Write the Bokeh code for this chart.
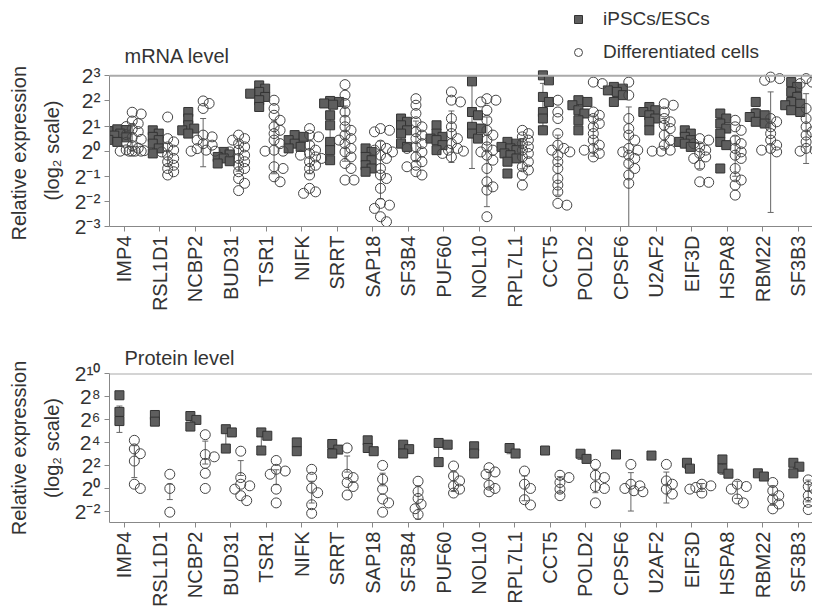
import math
from bokeh.plotting import figure
from bokeh.models import (Range1d, FixedTicker, ColumnDataSource, Whisker, TeeHead,
                          Span, Legend, LegendItem, Label, Title)
from bokeh.layouts import column
from bokeh.embed import file_html
from bokeh.resources import INLINE

# ---------------- data (log2 values) ----------------
genes = ["IMP4", "RSL1D1", "NCBP2", "BUD31", "TSR1", "NIFK", "SRRT", "SAP18", "SF3B4", "PUF60",
         "NOL10", "RPL7L1", "CCT5", "POLD2", "CPSF6", "U2AF2", "EIF3D", "HSPA8", "RBM22", "SF3B3"]

mrna_esc = [
    [0.87, 0.84, 0.80, 0.70, 0.62, 0.55, 0.45, 0.37],
    [0.83, 0.70, 0.57, 0.44, 0.30, 0.11, -0.09],
    [1.56, 1.30, 1.03, 0.90, 0.83, 0.70],
    [-0.03, -0.13, -0.23, -0.29, -0.40, -0.49],
    [2.62, 2.49, 2.36, 2.29, 2.16, 2.03, 1.76],
    [0.64, 0.57, 0.44, 0.30, 0.17, 0.11],
    [2.0, 1.96, 1.90, 1.85, 1.43, 1.03, 0.37, 0.04, -0.36],
    [0.11, -0.03, -0.23, -0.36, -0.56, -0.69, -0.82],
    [1.30, 1.17, 1.03, 0.83, 0.70, 0.30, 0.17],
    [1.03, 0.70, 0.57, 0.50, 0.44, 0.24, 0.04],
    [2.78, 1.56, 1.43, 0.97, 0.90, 0.70, 0.50],
    [0.37, 0.30, 0.17, 0.11, 0.04, -0.09, -0.16, -0.29, -0.42, -0.89],
    [3.02, 2.82, 2.16, 1.96, 1.56, 1.30, 0.83],
    [2.03, 1.96, 1.83, 1.63, 1.50, 1.23, 0.83],
    [2.56, 2.49, 2.42, 2.36, 2.23, 1.96],
    [1.76, 1.63, 1.56, 1.43, 1.30, 1.17, 0.83],
    [0.83, 0.70, 0.57, 0.44, 0.37, 0.30, 0.17],
    [1.50, 1.30, 1.10, 0.90, 0.70, 0.37, 0.24, -0.69],
    [1.96, 1.50, 1.43, 1.36, 1.17, 1.10],
    [2.75, 2.56, 2.36, 2.16, 1.96, 1.89, 1.83, 1.63, 1.56],
]
mrna_diff = [
    [1.55, 1.48, 1.20, 1.10, 0.98, 0.88, 0.78, 0.66, 0.55, 0.47, 0.35, 0.22, 0.12, 0.05, 0.02, 0.0, 0.0, 0.0, 0.0, 0.0],
    [1.36, 0.50, 0.37, 0.17, 0.04, -0.03, -0.16, -0.29, -0.42, -0.56, -0.69, -0.82, -0.95],
    [2.0, 1.9, 1.7, 0.64, 0.57, 0.44, 0.30, 0.24, 0.10, 0.04, 0.0, 0.0],
    [0.64, 0.50, 0.44, 0.30, 0.17, 0.04, -0.03, -0.16, -0.29, -0.42, -0.56, -0.69, -0.82, -1.09, -1.28, -1.57],
    [2.03, 1.70, 1.43, 1.23, 0.97, 0.83, 0.70, 0.44, 0.30, 0.04, 0.0, 0.0, -0.62, -0.69, -1.02, -1.22],
    [0.90, 0.64, 0.57, 0.24, 0.04, -0.09, -0.16, -0.23, -0.29, -0.42, -0.56, -0.69, -0.95, -1.48, -1.62, -1.68],
    [2.65, 2.23, 1.90, 1.56, 1.23, 0.97, 0.83, 0.64, 0.50, 0.44, 0.30, 0.11, -0.03, -0.23, -0.49, -0.69, -1.15, -1.15],
    [0.90, 0.83, 0.77, 0.24, 0.11, 0.04, -0.03, -0.16, -0.29, -0.69, -0.95, -1.09, -1.48, -2.08, -2.15, -2.28, -2.61, -2.81],
    [2.09, 1.83, 1.50, 1.17, 0.97, 0.77, 0.64, 0.50, 0.30, 0.17, 0.11, -0.03, -0.23, -0.42, -0.56, -0.62, -0.82, -0.95],
    [2.36, 2.03, 1.96, 1.30, 0.97, 0.70, 0.50, 0.30, 0.11, 0.04, 0.0, -0.09, -0.23],
    [2.09, 2.03, 1.96, 1.63, 1.23, 0.83, 0.64, 0.44, 0.17, 0.04, -0.03, -0.16, -0.36, -0.69, -1.22, -1.42, -1.55, -2.61],
    [0.83, 0.70, 0.57, 0.44, 0.30, 0.17, 0.04, -0.09, -0.23, -0.42, -0.62, -0.75, -0.95, -1.35],
    [2.03, 1.56, 1.30, 0.70, 0.24, 0.11, 0.04, -0.03, -0.16, -0.42, -0.69, -1.09, -1.35, -1.62, -2.08, -2.15],
    [2.75, 2.69, 1.56, 1.43, 1.30, 1.10, 0.97, 0.70, 0.44, 0.24, 0.11, 0.04, -0.09, -0.23],
    [2.75, 2.23, 1.30, 0.90, 0.64, 0.44, 0.11, 0.04, -0.03, -0.16, -0.29, -0.49, -0.69, -0.95, -1.28],
    [1.89, 1.83, 1.56, 1.30, 1.17, 1.03, 0.90, 0.64, 0.44, 0.24, 0.04, 0.0, 0.0],
    [0.50, 0.44, 0.30, 0.17, 0.04, -0.09, -0.23, -0.29, -0.56, -1.22, -1.24],
    [1.23, 0.97, 0.83, 0.44, 0.30, 0.11, -0.03, -0.16, -0.29, -0.69, -1.02, -1.15, -1.35, -1.75],
    [2.95, 2.89, 2.82, 1.30, 1.17, 0.97, 0.70, 0.44, 0.24, 0.11, 0.04, -0.03],
    [2.89, 2.75, 2.69, 1.70, 1.30, 0.97, 0.77, 0.64, 0.37, 0.11, 0.04, 0.0],
]
mrna_esc_err = [(0.40, 0.85), (0.05, 0.75), (0.70, 1.40), (-0.40, -0.10), (1.90, 2.50),
                (0.15, 0.55), (0.10, 1.90), (-0.65, 0.0), (0.40, 1.20), (0.30, 0.80),
                (-0.69, 2.78), (-0.35, 0.35), (1.00, 2.70), (1.20, 1.90), (2.10, 2.50),
                (1.10, 1.70), (0.30, 0.70), (0.20, 1.30), (1.15, 1.70), (1.60, 2.60)]
mrna_diff_err = [(0.0, 1.1), (-0.6, 0.3), (-0.62, 1.30), (-0.8, 0.4), (-0.9, 1.2),
                 (-0.9, 0.4), (-0.4, 1.8), (-1.9, 0.4), (-0.4, 1.2), (-0.45, 1.6),
                 (-2.21, 1.36), (-0.7, 0.5), (-1.75, 0.64), (-0.2, 1.4), (-3.0, 1.76),
                 (0.1, 1.3), (-0.7, 0.3), (-1.0, 0.6), (-2.44, 2.36), (-0.49, 2.29)]

prot_esc = [
    [8.1, 6.65, 5.85], [6.38, 5.8], [6.29, 5.95, 5.37], [5.14, 4.86, 3.45], [4.86, 4.57, 3.28],
    [3.99, 3.22], [3.85, 3.36, 3.02], [4.17, 3.5, 3.22], [3.79, 3.4, 3.02], [3.94, 3.79, 2.27],
    [3.65, 3.02], [3.5, 3.02], [3.28], [3.0, 2.55], [2.93],
    [2.84], [2.21, 1.70], [2.5, 1.70, 1.26], [1.29, 1.01], [2.21, 1.87, 1.29],
]
prot_diff = [
    [4.17, 3.42, 3.0, 2.36, 0.34, -0.03], [1.21, -0.03, -2.1],
    [4.66, 2.93, 2.73, 2.16, 1.29, -0.03], [3.22, 0.92, 0.34, 0.2, -0.09, -0.66, -1.09],
    [2.41, 1.64, 1.49, 1.21, -0.09, -1.29], [1.64, 0.95, 0.0, -0.4, -1.45, -2.2],
    [3.5, 1.21, 0.92, 0.49, 0.14, -0.6], [1.98, 0.78, -0.09, -0.95, -1.29, -2.1],
    [0.6, -0.3, -0.9, -1.4, -1.8, -2.3], [1.93, 1.06, 0.63, 0.2, -0.09, -0.43],
    [1.78, 1.41, 1.21, 0.26, -0.03, -0.32], [1.49, 0.34, -0.03, -1.01, -1.47],
    [1.12, 0.92, 0.49, -0.09, -0.66], [2.07, 1.12, 0.92, 0.14, -0.03, -1.29],
    [2.07, 0.34, 0.2, -0.03, -0.23, -0.32], [2.07, 0.63, 0.34, -0.09, -0.52],
    [0.34, 0.2, 0.06, -0.09, -0.43], [0.34, 0.14, -0.09, -0.95, -1.29],
    [0.49, -0.23, -0.66, -0.95, -1.38, -1.81], [0.72, 0.14, -0.09, -0.66, -1.24, -1.87],
]
prot_esc_err = [(4.86, 7.16), (5.8, 6.4), (5.4, 6.3), (3.5, 5.1), (3.3, 4.9),
                (3.2, 4.0), (3.0, 3.8), (3.2, 4.2), (3.0, 3.8), (2.3, 3.9),
                (3.0, 3.6), (3.0, 3.5), (3.28, 3.28), (2.5, 3.0), (2.93, 2.93),
                (2.84, 2.84), (1.7, 2.2), (1.2, 2.5), (1.0, 1.3), (1.3, 2.2)]
prot_diff_err = [(0.92, 3.7), (-1.0, 0.34), (2.1, 4.1), (1.1, 2.4), (0.3, 1.6),
                 (-1.3, 0.6), (1.4, 2.8), (0.2, 1.3), (-2.7, 0.2), (-0.3, 1.4),
                 (0.0, 1.4), (-1.1, 1.06), (-0.4, 1.0), (-0.4, 1.6), (-2.0, 1.35),
                 (-1.3, 1.4), (-0.3, 0.4), (-0.9, 0.6), (-1.5, 0.2), (-1.2, 0.7)]

mrna_ticks = [3, 2, 1, 0, -1, -2, -3]
mrna_tick_labels = ["2³", "2²", "2¹", "2⁰", "2⁻¹", "2⁻²", "2⁻³"]
prot_ticks = [10, 8, 6, 4, 2, 0, -2]
prot_tick_labels = ["2¹⁰", "2⁸", "2⁶", "2⁴", "2²", "2⁰", "2⁻²"]

series_names = ["iPSCs/ESCs", "Differentiated cells"]
panel_titles = ["mRNA level", "Protein level"]
y_title_lines = ["Relative expression", "(log₂ scale)"]

# ---------------- styling / layout ----------------
FONT = "Liberation Sans"
TXT = "#333333"
LEFT = 109
FRAME_W = 703
W = LEFT + FRAME_W
XR = (-0.42, 19.40)
XPX = FRAME_W / (XR[1] - XR[0])
BB = 86          # bottom border for the rotated gene labels
SQ_STYLE = dict(marker="square", size=9, fill_color="#5e5e5e", line_color="#333333", line_width=1)
CI_STYLE = dict(marker="circle", size=10, fill_alpha=0, line_color="#444444", line_width=1)


def swarm(vals, center, ypx, step=3.0, mind=6.5, maxk=3):
    placed = []
    out = []
    for v in vals:
        vy = v * ypx
        cands = [0.0]
        for k in range(1, maxk + 1):
            cands += [k * step, -k * step]
        best = None
        bestd = -1
        bb = 0.0
        for c in cands:
            d = min([math.hypot(c - px, vy - py) for px, py in placed], default=1e9)
            if d >= mind:
                best = c
                break
            if d > bestd:
                bestd = d
                bb = c
        if best is None:
            best = bb
        placed.append((best, vy))
        out.append(center + best / XPX)
    return out


def build(yr, top_line, ticks, labels, esc, diff, esc_err, diff_err, off_sq, off_ci,
          frame_h, border_top, ytitle_align, ytitle_offsets, title=None):
    p = figure(width=W, height=border_top + frame_h + BB, x_range=Range1d(*XR),
               y_range=Range1d(*yr), output_backend="svg", toolbar_location=None,
               min_border_left=LEFT, min_border_right=0, min_border_top=border_top,
               min_border_bottom=BB)
    ypx = frame_h / (yr[1] - yr[0])
    p.outline_line_color = None
    p.xgrid.visible = False
    p.ygrid.visible = False
    p.background_fill_color = "white"
    p.border_fill_color = "white"
    if title is not None:
        p.title.text = title
        p.title.text_font = FONT
        p.title.text_font_size = "20px"
        p.title.text_font_style = "normal"
        p.title.text_color = TXT
        p.title.offset = 15
        p.title.standoff = 10

    sx, sy, cx, cy = [], [], [], []
    for i in range(len(genes)):
        sx += swarm(esc[i], i + off_sq, ypx, step=3.0, maxk=3)
        sy += esc[i]
        cx += swarm(diff[i], i + off_ci, ypx, step=3.0, maxk=4)
        cy += diff[i]
    r_s = p.scatter("x", "y", source=ColumnDataSource(dict(x=sx, y=sy)), **SQ_STYLE)
    r_c = p.scatter("x", "y", source=ColumnDataSource(dict(x=cx, y=cy)), **CI_STYLE)

    wsrc_s = ColumnDataSource(dict(x=[i + off_sq for i in range(len(genes))],
                                   lo=[e[0] for e in esc_err], hi=[e[1] for e in esc_err]))
    wsrc_c = ColumnDataSource(dict(x=[i + off_ci for i in range(len(genes))],
                                   lo=[e[0] for e in diff_err], hi=[e[1] for e in diff_err]))
    for ws_ in (wsrc_s, wsrc_c):
        wk = Whisker(base="x", lower="lo", upper="hi", source=ws_, line_color="#666666",
                     line_width=1,
                     upper_head=TeeHead(size=6, line_color="#666666", line_width=1),
                     lower_head=TeeHead(size=6, line_color="#666666", line_width=1))
        p.add_layout(wk)

    p.add_layout(Span(location=top_line, dimension="width", line_color="#aaaaaa", line_width=2))

    # axes
    p.xaxis.ticker = FixedTicker(ticks=list(range(len(genes))))
    p.xaxis.major_label_overrides = {i: g for i, g in enumerate(genes)}
    p.xaxis.major_label_orientation = math.pi / 2
    p.xaxis.major_label_text_font = FONT
    p.xaxis.major_label_text_font_size = "20px"
    p.xaxis.major_label_text_color = TXT
    p.xaxis.major_label_standoff = 4
    p.xaxis.minor_tick_line_color = None

    p.yaxis.bounds = (yr[0], top_line)
    p.yaxis.ticker = FixedTicker(ticks=ticks)
    p.yaxis.major_label_overrides = {t: l for t, l in zip(ticks, labels)}
    p.yaxis.major_label_text_font = FONT
    p.yaxis.major_label_text_font_size = "21px"
    p.yaxis.major_label_text_color = TXT
    p.yaxis.major_label_standoff = 4
    p.yaxis.minor_tick_line_color = None

    for ax in (p.xaxis, p.yaxis):
        ax.axis_line_color = "#888888"
        ax.major_tick_line_color = "#888888"
        ax.major_tick_out = 5
        ax.major_tick_in = 0

    # two-line y title, as side titles so they can sit where the reference has them
    t2 = Title(text=y_title_lines[1], align=ytitle_align, offset=ytitle_offsets[1], standoff=17,
               text_font=FONT, text_font_size="20px", text_font_style="normal",
               text_color=TXT)
    t1 = Title(text=y_title_lines[0], align=ytitle_align, offset=ytitle_offsets[0], standoff=2,
               text_font=FONT, text_font_size="20px", text_font_style="normal",
               text_color=TXT)
    p.add_layout(t2, "left")
    p.add_layout(t1, "left")
    return p, r_s, r_c


# ---- mRNA panel: frame from page y 0; 2^3 line at 76, 2^-3 at 228 ----
mpx = 152 / 6
top, rs, rc = build((-3, 3 + 76 / mpx), 3, mrna_ticks, mrna_tick_labels,
                    mrna_esc, mrna_diff, mrna_esc_err, mrna_diff_err, -0.2, 0.22,
                    228, 0, "left", (-14, 26))
lg = Legend(items=[LegendItem(label=series_names[0], renderers=[rs]),
                   LegendItem(label=series_names[1], renderers=[rc])],
            location=(459, 228 - 65), padding=0, margin=0, spacing=11,
            glyph_height=20, glyph_width=20, label_height=20, label_standoff=15,
            label_text_font=FONT, label_text_font_size="19px",
            label_text_color=TXT, border_line_color=None, background_fill_alpha=0)
top.add_layout(lg)
top.add_layout(Label(x=15, y=228 - 57, x_units="screen", y_units="screen",
                     text=panel_titles[0], text_font=FONT, text_font_size="20px",
                     text_color=TXT, text_align="left", text_baseline="middle"))

# ---- protein panel: 2^10 line at page y 373, 2^-3 at 524 ----
bot_start = 228 + BB
bottom, _, _ = build((-3, 10), 10, prot_ticks, prot_tick_labels,
                     prot_esc, prot_diff, prot_esc_err, prot_diff_err, -0.14, 0.28,
                     524 - 373, 373 - bot_start, "center", (0, 0), title=panel_titles[1])

layout = column(top, bottom, spacing=0)
open("out.html", "w").write(file_html(layout, INLINE))
